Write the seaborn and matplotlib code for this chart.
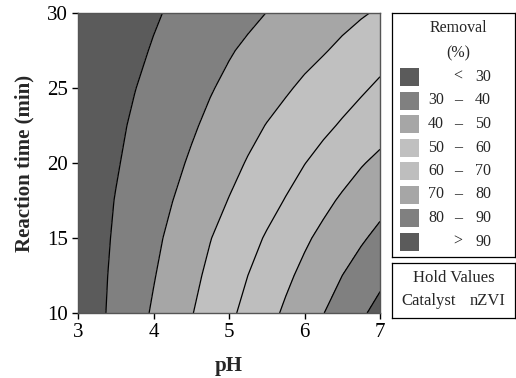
import numpy as np
import pandas as pd
import matplotlib
matplotlib.use("Agg")
import matplotlib.pyplot as plt
from matplotlib.patches import Rectangle
import seaborn as sns

# grid (removal %, rows = reaction time, cols = pH)
ph = [3.0, 3.25, 3.5, 3.75, 4.0, 4.25, 4.5, 4.75, 5.0, 5.25, 5.5, 5.75, 6.0, 6.25, 6.5, 6.75, 7.0]
time = [10, 12.5, 15, 17.5, 20, 22.5, 25, 27.5, 30]
removal = [
    [23.5, 27.9, 32.3, 36.7, 41.0, 45.3, 49.5, 53.9, 58.2, 62.6, 67.0, 71.4, 75.6, 79.8, 84.2, 88.6, 93.0],
    [23.8, 27.7, 31.7, 35.6, 39.5, 43.6, 47.7, 51.8, 55.9, 60.0, 64.1, 68.2, 72.2, 76.1, 80.0, 83.9, 87.7],
    [23.9, 27.4, 31.0, 34.6, 38.1, 41.9, 45.8, 49.7, 53.4, 57.1, 60.8, 64.7, 68.6, 72.2, 75.5, 78.9, 82.3],
    [23.9, 27.1, 30.3, 33.5, 36.7, 39.9, 43.3, 46.8, 50.3, 53.6, 57.0, 60.4, 64.1, 67.8, 71.2, 74.1, 77.1],
    [23.5, 26.4, 29.3, 32.2, 35.1, 38.0, 41.0, 44.2, 47.4, 50.6, 53.7, 56.7, 59.8, 62.9, 66.2, 69.4, 71.9],
    [23.2, 25.8, 28.4, 31.1, 33.7, 36.3, 38.9, 41.7, 44.6, 47.5, 50.3, 52.9, 55.6, 58.2, 60.9, 63.8, 66.7],
    [22.6, 25.0, 27.4, 29.8, 32.2, 34.6, 37.0, 39.4, 41.8, 44.2, 46.6, 49.0, 51.5, 53.9, 56.4, 58.8, 61.5],
    [21.9, 24.1, 26.3, 28.4, 30.6, 32.8, 35.0, 37.1, 39.3, 41.4, 43.4, 45.4, 47.4, 49.4, 51.7, 54.1, 56.5],
    [21.8, 23.6, 25.5, 27.3, 29.1, 31.0, 32.8, 34.6, 36.4, 38.2, 40.1, 41.9, 43.7, 45.5, 47.4, 49.2, 51.0],
]
levels = [0, 30, 40, 50, 60, 70, 80, 90, 100]
bin_labels = [("", "<", "30"), ("30", "\u2013", "40"), ("40", "\u2013", "50"), ("50", "\u2013", "60"),
              ("60", "\u2013", "70"), ("70", "\u2013", "80"), ("80", "\u2013", "90"), ("", ">", "90")]
fills = ["#5b5b5b", "#808080", "#a6a6a6", "#c0c0c0", "#bebebe", "#a6a6a6", "#808080", "#5b5b5b"]

df = pd.DataFrame(removal, index=time, columns=ph)

sns.set_theme(style="ticks")
plt.rcParams["font.family"] = ["Liberation Serif", "DejaVu Serif"]

fig = plt.figure(figsize=(5.16, 3.78), dpi=100)
W, H = 516, 378
ax = fig.add_axes([78 / W, 1 - 313 / H, 302 / W, 300 / H])

X, Y = np.meshgrid(df.columns.values, df.index.values)
ax.contourf(X, Y, df.values, levels=levels, colors=fills)
ax.contour(X, Y, df.values, levels=levels[1:-1], colors="black", linewidths=0.9)

ax.set_xlim(3, 7)
ax.set_ylim(10, 30)
ax.set_xticks([3, 4, 5, 6, 7])
ax.set_yticks([10, 15, 20, 25, 30])
ax.tick_params(labelsize=15, length=4, width=1, pad=3, colors="black")
for s in ax.spines.values():
    s.set_color("#555555")
    s.set_linewidth(1)
ax.set_xlabel("pH", fontsize=15, fontweight="bold", labelpad=10)
ax.set_ylabel("Reaction time (min)", fontsize=15, fontweight="bold", labelpad=9)

# legend box
lax = fig.add_axes([392 / W, 1 - 257 / H, 123 / W, 244 / H])
lax.set_xlim(0, 123)
lax.set_ylim(244, 0)
lax.set_xticks([])
lax.set_yticks([])
for s in lax.spines.values():
    s.set_color("black")
    s.set_linewidth(0.9)
lax.text(66, 15, "Removal", ha="center", va="center", fontsize=11.5)
lax.text(66, 40, "(%)", ha="center", va="center", fontsize=11.5)
for i, (c, (lo, sym, hi)) in enumerate(zip(fills, bin_labels)):
    yc = 64 + i * 23.5
    lax.add_patch(Rectangle((8, yc - 9), 19, 18, facecolor=c, edgecolor="none"))
    lax.text(52, yc, lo, ha="right", va="center", fontsize=11.5)
    lax.text(66, yc, sym, ha="center", va="center", fontsize=11.5)
    lax.text(99, yc, hi, ha="right", va="center", fontsize=11.5)

# hold values box
hax = fig.add_axes([392 / W, 1 - 318 / H, 123 / W, 55 / H])
hax.set_xlim(0, 123)
hax.set_ylim(55, 0)
hax.set_xticks([])
hax.set_yticks([])
for s in hax.spines.values():
    s.set_color("black")
    s.set_linewidth(0.9)
hax.text(62, 15, "Hold Values", ha="center", va="center", fontsize=12)
hax.text(9, 38, "Catalyst", ha="left", va="center", fontsize=12)
hax.text(114, 38, "nZVI", ha="right", va="center", fontsize=12)

fig.savefig("out.png", dpi=100)
